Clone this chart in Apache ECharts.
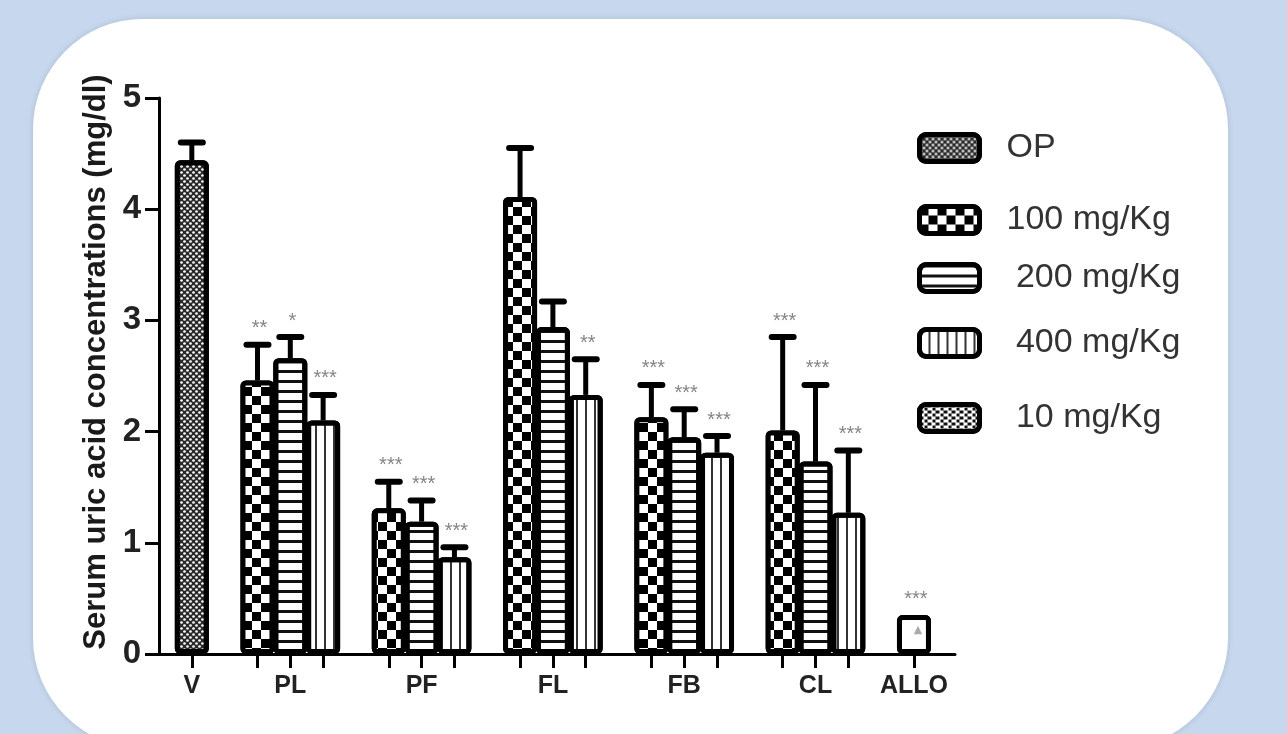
<!DOCTYPE html>
<html>
<head>
<meta charset="utf-8">
<script src="https://cdn.jsdelivr.net/npm/echarts@6/dist/echarts.min.js"></script>
<style>
  html, body { margin: 0; padding: 0; background: #c6d7ee; }
  #chart { width: 1287px; height: 734px; }
</style>
</head>
<body>
<div id="chart"></div>
<script>
// group labels on the x axis and their slot positions
const groups = ['V', 'PL', 'PF', 'FL', 'FB', 'CL', 'ALLO'];
const groupSlots = [0, 3, 7, 11, 15, 19, 22];
const tickSlots = [0, 2, 3, 4, 6, 7, 8, 10, 11, 12, 14, 15, 16, 18, 19, 20, 22];

const names = ['OP', '100 mg/Kg', ' 200 mg/Kg', ' 400 mg/Kg', ' 10 mg/Kg'];

// OP (vehicle)
const slotsOP = [0];
const meanOP = [4.44];
const errOP = [0.16];
const starsOP = [''];

// 100 mg/Kg  (PL, PF, FL, FB, CL)
const slots100 = [2, 6, 10, 14, 18];
const mean100 = [2.46, 1.31, 4.11, 2.13, 2.01];
const err100 = [0.32, 0.24, 0.44, 0.29, 0.84];
const stars100 = ['**', '***', '', '***', '***'];

// 200 mg/Kg
const slots200 = [3, 7, 11, 15, 19];
const mean200 = [2.66, 1.19, 2.94, 1.95, 1.73];
const err200 = [0.19, 0.19, 0.23, 0.25, 0.69];
const stars200 = ['*', '***', '', '***', '***'];

// 400 mg/Kg
const slots400 = [4, 8, 12, 16, 20];
const mean400 = [2.10, 0.87, 2.33, 1.81, 1.27];
const err400 = [0.23, 0.09, 0.32, 0.15, 0.56];
const stars400 = ['***', '***', '**', '***', '***'];

// 10 mg/Kg (allopurinol)
const slots10 = [22];
const mean10 = [0.35];
const err10 = [0];
const stars10 = ['***'];

const sets = [
  [slotsOP, meanOP, errOP, starsOP],
  [slots100, mean100, err100, stars100],
  [slots200, mean200, err200, stars200],
  [slots400, mean400, err400, stars400],
  [slots10, mean10, err10, stars10]
];

const decals = [
  { symbol: 'circle', symbolSize: 0.9, color: '#fff', dashArrayX: [[3, 3], [0, 3, 3, 0]], dashArrayY: [3, 0] },
  { symbol: 'rect', symbolSize: 1, color: '#fff', dashArrayX: [[9, 9], [0, 9, 9, 0]], dashArrayY: [9, 0] },
  { symbol: 'rect', symbolSize: 1, color: '#111', dashArrayX: [1, 0], dashArrayY: [2.5, 6.5] },
  { symbol: 'rect', symbolSize: 1, color: '#333', dashArrayX: [2, 7], dashArrayY: [10, 0] },
  { symbol: 'triangle', symbolSize: 0.7, color: '#aaa', dashArrayX: [12, 12], dashArrayY: [12, 12] }
];
const fills = ['#2a2a2a', '#000', '#fff', '#fff', '#fff'];
const legendTops = [140, 212, 270, 335, 410];

// the 10 mg/Kg key is drawn dark with a light wavy fill
const legendItemStyles = [null, null, null, null, {
  color: '#111',
  decal: { symbol: 'rect', symbolSize: 1, color: '#fff', dashArrayX: [[5, 3], [0, 4, 4, 0]], dashArrayY: [3, 0] }
}];

const barSeries = names.map((n, i) => ({
  name: n,
  type: 'bar',
  stack: 'all',
  barWidth: 34,
  data: sets[i][0].map((s, k) => [s, sets[i][1][k]]),
  itemStyle: {
    color: fills[i],
    borderColor: '#000',
    borderWidth: 5,
    borderRadius: 3,
    decal: decals[i]
  },
  z: 2
}));

const errData = [];
sets.forEach(set => {
  set[0].forEach((s, k) => {
    errData.push([s, set[1][k], set[1][k] + set[2][k], set[3][k]]);
  });
});

const errSeries = {
  type: 'custom',
  z: 5,
  data: errData,
  encode: { x: 0, y: [1, 2] },
  renderItem: function (params, api) {
    const p0 = api.coord([api.value(0), api.value(1)]);
    const p1 = api.coord([api.value(0), api.value(2)]);
    const stars = errData[params.dataIndex][3];
    const children = [];
    if (api.value(2) > api.value(1)) {
      children.push({
        type: 'line',
        shape: { x1: p0[0], y1: p0[1], x2: p1[0], y2: p1[1] },
        style: { stroke: '#000', lineWidth: 5 }
      });
      children.push({
        type: 'line',
        shape: { x1: p1[0] - 11, y1: p1[1], x2: p1[0] + 11, y2: p1[1] },
        style: { stroke: '#000', lineWidth: 6, lineCap: 'round' }
      });
    }
    if (stars) {
      children.push({
        type: 'text',
        x: p1[0] + 2,
        y: p1[1] - 6,
        style: {
          text: stars, fill: '#858585', font: '20px "Liberation Sans"',
          align: 'center', verticalAlign: 'bottom'
        }
      });
    }
    return { type: 'group', children: children };
  }
};

const chart = echarts.init(document.getElementById('chart'));
chart.setOption({
  backgroundColor: '#c6d7ee',
  animation: false,
  textStyle: { fontFamily: '"Liberation Sans", Arial, sans-serif' },
  graphic: [{
    type: 'rect',
    z: -10,
    shape: { x: 33, y: 19, width: 1195, height: 729, r: 110 },
    style: { fill: '#fff', shadowBlur: 6, shadowColor: 'rgba(0,0,0,0.12)' }
  }],
  legend: names.map((n, i) => ({
    data: [legendItemStyles[i] ? { name: n, itemStyle: legendItemStyles[i] } : n],
    left: 912,
    top: legendTops[i] - 14,
    icon: 'roundRect',
    itemWidth: 60,
    itemHeight: 27,
    itemStyle: { borderColor: '#000', borderWidth: 5 },
    selectedMode: false,
    textStyle: { fontSize: 34, color: '#333', padding: [0, 0, 0, 22] }
  })),
  grid: { left: 159, top: 98, width: 796, height: 556 },
  xAxis: {
    type: 'value',
    min: -1,
    max: 23.25,
    splitLine: { show: false },
    axisLine: { onZero: false, lineStyle: { color: '#000', width: 3 } },
    axisTick: { length: 14, lineStyle: { color: '#000', width: 3 }, customValues: tickSlots },
    axisLabel: {
      customValues: groupSlots,
      formatter: v => groups[groupSlots.indexOf(v)],
      fontSize: 25, fontWeight: 'bold', color: '#222', margin: 20
    }
  },
  yAxis: {
    type: 'value',
    min: 0,
    max: 5,
    interval: 1,
    splitLine: { show: false },
    axisLine: { show: true, onZero: false, lineStyle: { color: '#000', width: 3 } },
    axisTick: { show: true, length: 14, lineStyle: { color: '#000', width: 3 } },
    axisLabel: { fontSize: 33, fontWeight: 'bold', color: '#222', margin: 18 },
    name: 'Serum uric acid concentrations (mg/dl)',
    nameLocation: 'middle',
    nameGap: 45,
    nameTextStyle: { fontSize: 31, fontWeight: 'bold', color: '#1a1a1a', padding: [0, 0, 0, 28] }
  },
  series: barSeries.concat([errSeries])
});
</script>
</body>
</html>
